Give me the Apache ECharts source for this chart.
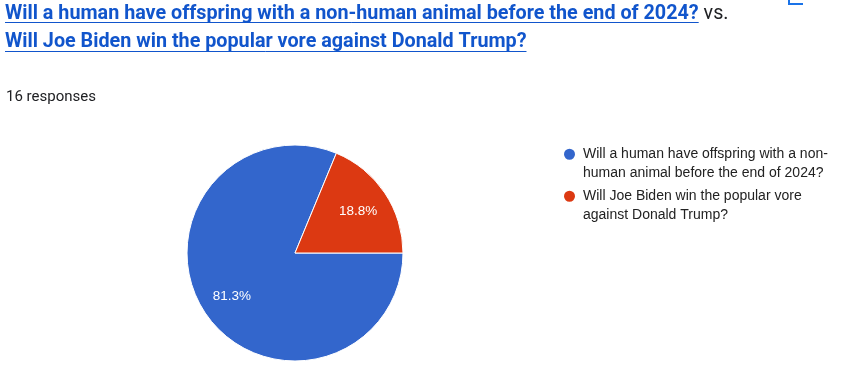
<!DOCTYPE html>
<html>
<head>
<meta charset="utf-8">
<script src="https://cdn.jsdelivr.net/npm/echarts@6/dist/echarts.min.js"></script>
<style>
  html, body { margin: 0; padding: 0; background: #fff; }
  #chart { width: 841px; height: 372px; }
</style>
</head>
<body>
<div id="chart"></div>
<script>
const categories = [
  'Will a human have offspring with a non-human animal before the end of 2024?',
  'Will Joe Biden win the popular vore against Donald Trump?'
];
const values = [13, 3];
const legendLines = [
  ['Will a human have offspring with a non-', 'human animal before the end of 2024?'],
  ['Will Joe Biden win the popular vore', 'against Donald Trump?']
];
const responsesText = '16 responses';
const colors = ['#3366cc', '#dc3912'];

const total = values.reduce((a, b) => a + b, 0);
const pieData = categories.map((c, i) => ({ name: c, value: values[i] }));

const titleFont = 'bold 19.75px Roboto';
const ctx = document.createElement('canvas').getContext('2d');
ctx.font = titleFont;
const w1 = ctx.measureText(categories[0]).width;
const w2 = ctx.measureText(categories[1]).width;
ctx.font = '19.75px Roboto';
const spaceW = ctx.measureText(' ').width;

const linkColor = '#1155cc';
const titleX = 5;

const chart = echarts.init(document.getElementById('chart'), null, { renderer: 'canvas' });
chart.setOption({
  animation: false,
  color: colors,
  graphic: [
    { type: 'text', style: { text: categories[0], x: titleX, y: 14, font: titleFont, fill: linkColor, verticalAlign: 'middle' } },
    { type: 'line', shape: { x1: titleX, y1: 22.5, x2: titleX + w1, y2: 22.5 }, style: { stroke: linkColor, lineWidth: 1 } },
    { type: 'text', style: { text: 'vs.', x: titleX + w1 + spaceW, y: 14, font: '19.75px Roboto', fill: '#202124', verticalAlign: 'middle' } },
    { type: 'text', style: { text: categories[1], x: titleX, y: 42.5, font: titleFont, fill: linkColor, verticalAlign: 'middle' } },
    { type: 'line', shape: { x1: titleX, y1: 51.5, x2: titleX + w2, y2: 51.5 }, style: { stroke: linkColor, lineWidth: 1 } },
    { type: 'text', style: { text: responsesText, x: 6, y: 97.5, font: '15px Roboto', fill: '#202124', verticalAlign: 'middle' } },
    { type: 'polyline', shape: { points: [[789, 0], [789, 4], [803, 4]] }, style: { stroke: '#1a73e8', lineWidth: 2, fill: null } }
  ],
  legend: {
    orient: 'vertical',
    left: 562,
    top: 126.5,
    padding: 0,
    icon: 'circle',
    itemWidth: 13,
    itemHeight: 13,
    itemGap: -13.5,
    data: categories,
    formatter: function (name) {
      const l = legendLines[categories.indexOf(name)];
      return '\n' + l.join('\n');
    },
    textStyle: {
      fontFamily: '"Liberation Sans", Arial, sans-serif',
      fontSize: 14,
      color: '#222222',
      lineHeight: 18.5,
      padding: [0, 0, 0, 2]
    },
    selectedMode: false
  },
  series: [
    {
      type: 'pie',
      center: [295, 253],
      radius: 108,
      startAngle: 0,
      clockwise: true,
      label: { show: false },
      labelLine: { show: false },
      itemStyle: { borderColor: '#ffffff', borderWidth: 1 },
      emphasis: { disabled: true },
      data: pieData
    },
    {
      type: 'pie',
      center: [295, 254],
      radius: [38, 108],
      startAngle: 0,
      clockwise: true,
      silent: true,
      itemStyle: { color: 'rgba(0,0,0,0)' },
      label: {
        show: true,
        position: 'inside',
        color: '#ffffff',
        fontFamily: '"Liberation Sans", Arial, sans-serif',
        fontSize: 13.5,
        formatter: function (p) { return (p.value / total * 100).toFixed(1) + '%'; }
      },
      labelLine: { show: false },
      emphasis: { disabled: true },
      data: pieData
    }
  ]
});
</script>
</body>
</html>
